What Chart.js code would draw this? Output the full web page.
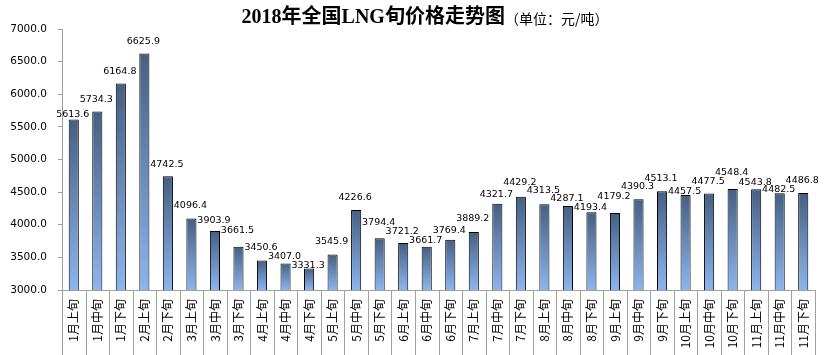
<!DOCTYPE html>
<html>
<head>
<meta charset="utf-8">
<script src="https://cdn.jsdelivr.net/npm/chart.js@4/dist/chart.umd.min.js"></script>
<style>
  html, body { margin: 0; padding: 0; background: #ffffff; }
  #wrap { width: 830px; height: 355px; position: relative; }
</style>
</head>
<body>
<div id="wrap"><canvas id="c"></canvas></div>
<script>
const titleMain = '2018年全国LNG旬价格走势图';
const titleUnit = '（单位：元/吨）';

const categories = [
  '1月上旬','1月中旬','1月下旬','2月上旬','2月下旬',
  '3月上旬','3月中旬','3月下旬','4月上旬','4月中旬','4月下旬',
  '5月上旬','5月中旬','5月下旬','6月上旬','6月中旬','6月下旬',
  '7月上旬','7月中旬','7月下旬','8月上旬','8月中旬','8月下旬',
  '9月上旬','9月中旬','9月下旬','10月上旬','10月中旬','10月下旬',
  '11月上旬','11月中旬','11月下旬'
];

const prices = [
  5613.6, 5734.3, 6164.8, 6625.9, 4742.5,
  4096.4, 3903.9, 3661.5, 3450.6, 3407.0, 3331.3,
  3545.9, 4226.6, 3794.4, 3721.2, 3661.7, 3769.4,
  3889.2, 4321.7, 4429.2, 4313.5, 4287.1, 4193.4,
  4179.2, 4390.3, 4513.1, 4457.5, 4477.5, 4548.4,
  4543.8, 4482.5, 4486.8
];

const yMin = 3000;
const yMax = 7000;
const yStep = 500;

// how far (px) each value label sits above its bar top (label placement, as in the original)
const labelLift = [
  5, 12, 12, 12, 12, 13, 10, 16, 13, 7, 3,
  13, 12, 16, 11, 6, 9, 13, 9, 14, 14, 7, 5,
  17, 13, 13, 3, 12, 16, 7, 4, 12
];

const titlePlugin = {
  id: 'titlePlugin',
  afterDraw(chart) {
    const ctx = chart.ctx;
    ctx.save();
    const mainFont = 'bold 20px "Liberation Serif", "Noto Sans CJK SC", serif';
    const unitFont = '14px "Noto Sans CJK SC", sans-serif';
    ctx.font = mainFont;
    const w1 = ctx.measureText(titleMain).width;
    ctx.font = unitFont;
    const w2 = ctx.measureText(titleUnit).width;
    const cx = 425;
    const x0 = cx - (w1 + w2) / 2;
    ctx.fillStyle = '#000000';
    ctx.textBaseline = 'middle';
    ctx.textAlign = 'left';
    ctx.font = mainFont;
    ctx.fillText(titleMain, x0, 18);
    ctx.font = unitFont;
    ctx.fillText(titleUnit, x0 + w1, 19);
    ctx.restore();
  }
};

const valueLabels = {
  id: 'valueLabels',
  afterDatasetsDraw(chart) {
    const ctx = chart.ctx;
    const meta = chart.getDatasetMeta(0);
    ctx.save();
    ctx.font = '9.5px "DejaVu Sans", sans-serif';
    ctx.fillStyle = '#000000';
    ctx.textAlign = 'center';
    ctx.textBaseline = 'middle';
    meta.data.forEach((bar, i) => {
      const v = chart.data.datasets[0].data[i];
      ctx.fillText(v.toFixed(1), bar.x - 1, bar.y - labelLift[i]);
    });
    ctx.restore();
  }
};

const separators = {
  id: 'separators',
  afterDraw(chart) {
    const ctx = chart.ctx;
    const xs = chart.scales.x;
    const area = chart.chartArea;
    const n = chart.data.labels.length;
    ctx.save();
    ctx.strokeStyle = '#a0a0a0';
    ctx.lineWidth = 1;
    for (let i = 0; i <= n; i++) {
      let x;
      if (i === 0) x = area.left;
      else if (i === n) x = area.right;
      else x = (xs.getPixelForTick(i - 1) + xs.getPixelForTick(i)) / 2;
      x = Math.round(x) + 0.5;
      ctx.beginPath();
      ctx.moveTo(x, area.bottom);
      ctx.lineTo(x, chart.height);
      ctx.stroke();
    }
    ctx.restore();
  }
};

function barGradient(context) {
  const chart = context.chart;
  const area = chart.chartArea;
  if (!area || !chart.scales.y) return '#6688bb';
  const ys = chart.scales.y;
  const v = context.raw;
  const top = ys.getPixelForValue(v);
  const bottom = ys.getPixelForValue(ys.min);
  if (!isFinite(top) || !isFinite(bottom) || top === bottom) return '#6688bb';
  const g = chart.ctx.createLinearGradient(0, top, 0, bottom);
  g.addColorStop(0, '#475f82');
  g.addColorStop(1, '#8cb5ee');
  return g;
}

new Chart(document.getElementById('c'), {
  type: 'bar',
  data: {
    labels: categories,
    datasets: [{
      data: prices,
      backgroundColor: barGradient,
      borderColor: '#000000',
      borderWidth: 1,
      borderSkipped: false,
      categoryPercentage: 1.0,
      barPercentage: 0.43
    }]
  },
  options: {
    responsive: true,
    maintainAspectRatio: false,
    animation: false,
    layout: { padding: { top: 29, right: 15, left: 0, bottom: 0 } },
    plugins: {
      legend: { display: false },
      title: { display: false },
      tooltip: { enabled: false }
    },
    scales: {
      x: {
        grid: { display: false, drawTicks: false },
        border: { display: true, color: '#a0a0a0' },
        ticks: {
          autoSkip: false,
          maxRotation: 90,
          minRotation: 90,
          padding: 9,
          color: '#000000',
          font: { family: '"Noto Sans CJK SC", sans-serif', size: 12 }
        },
        afterFit(scale) { scale.height = 65; }
      },
      y: {
        min: yMin,
        max: yMax,
        grid: { drawOnChartArea: false, drawTicks: true, tickLength: 4, color: '#a0a0a0' },
        border: { display: true, color: '#a0a0a0' },
        ticks: {
          stepSize: yStep,
          padding: 11,
          color: '#000000',
          font: { family: '"DejaVu Sans", sans-serif', size: 10.5 },
          callback: (v) => Number(v).toFixed(1)
        },
        afterFit(scale) { scale.width = 62; }
      }
    }
  },
  plugins: [titlePlugin, valueLabels, separators]
});
</script>
</body>
</html>
